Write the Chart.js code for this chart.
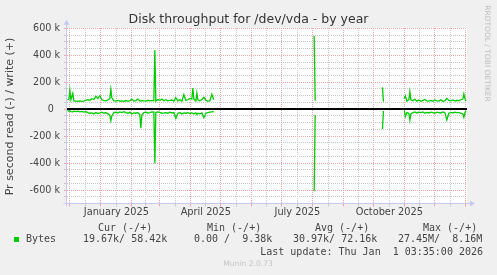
<!DOCTYPE html>
<html>
<head>
<meta charset="utf-8">
<script src="https://cdn.jsdelivr.net/npm/chart.js@4/dist/chart.umd.min.js"></script>
<style>
  html, body { margin: 0; padding: 0; background: #f0f0f0; }
  canvas { display: block; }
</style>
</head>
<body>
<canvas id="c" width="497" height="275"></canvas>
<script>
// ---- Data (values in thousands of bytes per second; x = days since 1 Jan 2025) ----
const seg1Days  = [-33.5,-32,-31,-30,-28,-27,-25,-23,-21,-19,
                   -17,-15,-13,-11,-9,-7,-5,-3,-1,1,
                   3,5,7,9,10,11,13,15,17,19,
                   21,23,25,27,29,31,33,35,37,39,
                   40,41,43,45,47,49,51,53,54,55,
                   57,59,61,63,65,67,69,71,73,75,
                   77,79,81,83,85,87,89,91,92,93,
                   95,96,97,99,101,103,105,107,109,111,
                   113];
const seg1Write = [68,75,142,70,118,62,60,58,62,58,
                   60,65,70,66,78,72,95,80,100,70,
                   65,62,68,80,148,85,62,60,65,60,
                   62,58,64,60,62,75,60,64,75,62,
                   60,65,62,60,66,62,65,62,440,60,
                   72,65,75,62,70,62,65,68,60,85,
                   62,70,60,108,65,70,80,75,157,75,
                   60,120,70,62,72,88,65,60,62,110,
                   70];
const seg1Read  = [-10,-15,-12,-18,-20,-15,-18,-14,-20,-16,
                   -22,-18,-25,-30,-28,-35,-25,-32,-28,-22,
                   -30,-25,-35,-45,-85,-50,-25,-22,-28,-20,
                   -25,-18,-26,-30,-22,-35,-28,-30,-25,-40,
                   -142,-45,-25,-22,-28,-25,-20,-22,-401,-25,
                   -20,-24,-30,-28,-25,-30,-22,-28,-25,-68,
                   -30,-25,-35,-28,-30,-26,-32,-28,-30,-35,
                   -28,-40,-30,-35,-28,-63,-30,-26,-22,-20,
                   -18];
const spikeADays  = [213.3, 214.3];
const spikeAWrite = [545, 63];
const spikeARead  = [-607, -43];
const spikeBDays  = [281.6, 282.6];
const spikeBWrite = [162, 56];
const spikeBRead  = [-147, -13];
const seg3Days  = [303.5,304.5,306,308,309,310,312,314,316,318,
                   320,322,324,326,328,330,332,334,336,338,
                   340,342,344,346,348,350,352,354,356,358,
                   360,362,363,364,365];
const seg3Write = [80,98,60,70,130,70,62,75,60,68,
                   58,65,72,62,60,65,58,68,62,60,
                   70,58,62,80,65,62,68,60,66,62,
                   70,75,113,80,61];
const seg3Read  = [-11,-55,-25,-30,-80,-35,-25,-20,-28,-22,
                   -26,-20,-30,-24,-28,-22,-25,-30,-22,-25,
                   -28,-20,-26,-80,-30,-24,-28,-22,-26,-25,
                   -30,-35,-60,-30,-11];
const gapDays = [160, 250, 295];

// ---- Axis ticks ----
const monthStartDays = [-31,0,31,59,90,120,151,181,212,243,273,304,334,365];
const xLabelDays = [15.5, 105, 196.5, 288.5];
const xLabels = ['January 2025', 'April 2025', 'July 2025', 'October 2025'];
const yLabelValues = [-600,-400,-200,0,200,400,600];
const yLabels = ['-600 k','-400 k','-200 k','0  ','200 k','400 k','600 k'];

// ---- Legend texts ----
const legendHeaders = ['Cur (-/+)', 'Min (-/+)', 'Avg (-/+)', 'Max (-/+)'];
const legendValues  = ['19.67k/ 58.42k', '0.00 /  9.38k', '30.97k/ 72.16k', '27.45M/  8.16M'];
const seriesName = 'Bytes';

// ---- Build datasets ----
function joinSeg(a, b, c, d) {
  return [...a, null, ...b, null, ...c, null, ...d];
}
const allDays = [...seg1Days, gapDays[0], ...spikeADays, gapDays[1], ...spikeBDays, gapDays[2], ...seg3Days];
const allWrite = joinSeg(seg1Write, spikeAWrite, spikeBWrite, seg3Write);
const allRead  = joinSeg(seg1Read, spikeARead, spikeBRead, seg3Read);
const writePts = allDays.map((d, i) => ({ x: d, y: allWrite[i] }));
const readPts  = allDays.map((d, i) => ({ x: d, y: allRead[i] }));

const monthMidDays = [];
for (let i = 0; i < monthStartDays.length - 1; i++) monthMidDays.push((monthStartDays[i] + monthStartDays[i + 1]) / 2);
const majorSet = new Set(monthStartDays);

const RED = 'rgb(242,165,165)';
const GRAY = 'rgb(200,200,200)';
const TXT = '#444';
const FONT = '"DejaVu Sans", sans-serif';
const MONO = '"DejaVu Sans Mono", monospace';

function isMajorY(v) { return v % 200 === 0; }

const decor = {
  id: 'decor',
  beforeDraw(chart) {
    const { ctx, chartArea: a, width, height } = chart;
    ctx.save();
    ctx.fillStyle = '#f0f0f0';
    ctx.fillRect(0, 0, width, height);
    ctx.fillStyle = '#ffffff';
    ctx.fillRect(a.left, a.top, a.right - a.left, a.bottom - a.top);
    ctx.restore();
  },
  beforeDatasetsDraw(chart) {
    const { ctx, chartArea: a, scales } = chart;
    const L = Math.round(a.left), R = Math.round(a.right), T = Math.round(a.top), B = Math.round(a.bottom);
    ctx.save();
    // dotted grid: minor first, then major
    for (const pass of [0, 1]) {
      ctx.fillStyle = pass ? RED : GRAY;
      for (const t of scales.y.ticks) {
        if (t.value === 0) continue;
        if ((isMajorY(t.value) ? 1 : 0) !== pass) continue;
        const y = Math.round(scales.y.getPixelForValue(t.value) - 0.5);
        if (y < T - 1 || y > B) continue;
        for (let x = L; x < R; x += 2) ctx.fillRect(x, y, 1, 1);
      }
      for (const t of scales.x.ticks) {
        if ((majorSet.has(t.value) ? 1 : 0) !== pass) continue;
        const x = Math.round(scales.x.getPixelForValue(t.value) - 0.5);
        if (x < L || x > R) continue;
        for (let y = T; y < B; y += 2) ctx.fillRect(x, y, 1, 1);
      }
    }
    // zero line
    const y0 = scales.y.getPixelForValue(0);
    ctx.strokeStyle = '#000';
    ctx.lineWidth = 2;
    ctx.beginPath();
    ctx.moveTo(a.left, Math.round(y0));
    ctx.lineTo(a.right, Math.round(y0));
    ctx.stroke();
    ctx.restore();
  },
  afterDraw(chart) {
    const { ctx, chartArea: a } = chart;
    ctx.save();
    // axes
    ctx.strokeStyle = '#c6c8f2';
    ctx.fillStyle = '#c6c8f2';
    ctx.lineWidth = 1;
    const ax = Math.round(a.left) - 0.5;
    const ay = Math.round(a.bottom) - 0.5;
    ctx.beginPath();
    ctx.moveTo(ax, ay + 3);
    ctx.lineTo(ax, a.top - 4);
    ctx.moveTo(ax - 3, ay);
    ctx.lineTo(a.right + 4, ay);
    ctx.stroke();
    ctx.beginPath();
    ctx.moveTo(ax - 3, a.top - 3);
    ctx.lineTo(ax + 3, a.top - 3);
    ctx.lineTo(ax, a.top - 8);
    ctx.closePath();
    ctx.fill();
    ctx.beginPath();
    ctx.moveTo(a.right + 3, ay - 3);
    ctx.lineTo(a.right + 3, ay + 3);
    ctx.lineTo(a.right + 8, ay);
    ctx.closePath();
    ctx.fill();

    // title
    ctx.fillStyle = '#333';
    ctx.textAlign = 'center';
    ctx.textBaseline = 'middle';
    ctx.font = '12.5px ' + FONT;
    ctx.fillText('Disk throughput for /dev/vda - by year', 248.5, 19.5);

    // y title
    ctx.save();
    ctx.translate(10.5, 116.5);
    ctx.rotate(-Math.PI / 2);
    ctx.font = '11px ' + FONT;
    ctx.fillStyle = TXT;
    ctx.fillText('Pr second read (-) / write (+)', 0, 0);
    ctx.restore();

    // side text
    ctx.save();
    ctx.translate(486.5, 53.5);
    ctx.rotate(Math.PI / 2);
    ctx.font = '7.5px ' + FONT;
    ctx.fillStyle = '#bdbdbd';
    ctx.fillText('RRDTOOL / TOBI OETIKER', 0, 0);
    ctx.restore();

    // legend
    ctx.font = '10px ' + MONO;
    ctx.fillStyle = TXT;
    ctx.textAlign = 'left';
    const hx = [98, 207, 315, 423];
    legendHeaders.forEach((t, i) => ctx.fillText(t, hx[i], 228));
    const vx = [83, 194, 293, 398];
    legendValues.forEach((t, i) => ctx.fillText(t, vx[i], 239.5));
    ctx.fillText(seriesName, 26, 239.5);
    ctx.textAlign = 'right';
    ctx.fillText('Last update: Thu Jan  1 03:35:00 2026', 483, 252);
    ctx.fillStyle = '#00cc00';
    ctx.fillRect(14, 237, 5, 5);

    ctx.textAlign = 'center';
    ctx.font = '7.6px ' + FONT;
    ctx.fillStyle = '#c4c4c4';
    ctx.fillText('Munin 2.0.73', 248, 264.5);
    ctx.restore();
  }
};

new Chart(document.getElementById('c'), {
  type: 'line',
  data: {
    datasets: [
      { label: 'Bytes write', data: writePts, borderColor: '#00cc00', borderWidth: 1.3,
        pointRadius: 0, tension: 0, spanGaps: false, fill: false },
      { label: 'Bytes read', data: readPts, borderColor: '#00cc00', borderWidth: 1.3,
        pointRadius: 0, tension: 0, spanGaps: false, fill: false }
    ]
  },
  options: {
    responsive: false,
    animation: false,
    layout: { padding: { left: 0, top: 27.8, right: 30, bottom: 0 } },
    plugins: { legend: { display: false }, tooltip: { enabled: false }, title: { display: false } },
    scales: {
      x: {
        type: 'linear',
        min: -33.85,
        max: 366.15,
        afterBuildTicks(scale) {
          const vals = [...monthStartDays, ...monthMidDays].filter(v => v >= scale.min && v <= scale.max).sort((p, q) => p - q);
          scale.ticks = vals.map(v => ({ value: v }));
        },
        afterFit(scale) { scale.height = 71.5; },
        ticks: {
          autoSkip: false, maxRotation: 0, padding: 0,
          color: TXT, font: { family: FONT, size: 9.8 },
          callback(v) { const i = xLabelDays.indexOf(v); return i >= 0 ? xLabels[i] : ''; }
        },
        grid: {
          drawOnChartArea: false,
          tickLength: 3,
          lineWidth: 1,
          tickColor(c) { return c.tick && majorSet.has(c.tick.value) ? RED : GRAY; }
        },
        border: { display: false }
      },
      y: {
        type: 'linear',
        min: -700,
        max: 604,
        afterBuildTicks(scale) {
          const vals = [];
          for (let v = -700; v <= 600; v += 50) vals.push(v);
          scale.ticks = vals.map(v => ({ value: v }));
        },
        afterFit(scale) { scale.width = 67; },
        ticks: {
          autoSkip: false, padding: 4,
          color: TXT, font: { family: FONT, size: 9.6 },
          callback(v) { const i = yLabelValues.indexOf(v); return i >= 0 ? yLabels[i] : ''; }
        },
        grid: {
          drawOnChartArea: false,
          tickLength: 3,
          lineWidth: 1,
          tickColor(c) { return c.tick && isMajorY(c.tick.value) ? RED : GRAY; }
        },
        border: { display: false }
      }
    }
  },
  plugins: [decor]
});
</script>
</body>
</html>
